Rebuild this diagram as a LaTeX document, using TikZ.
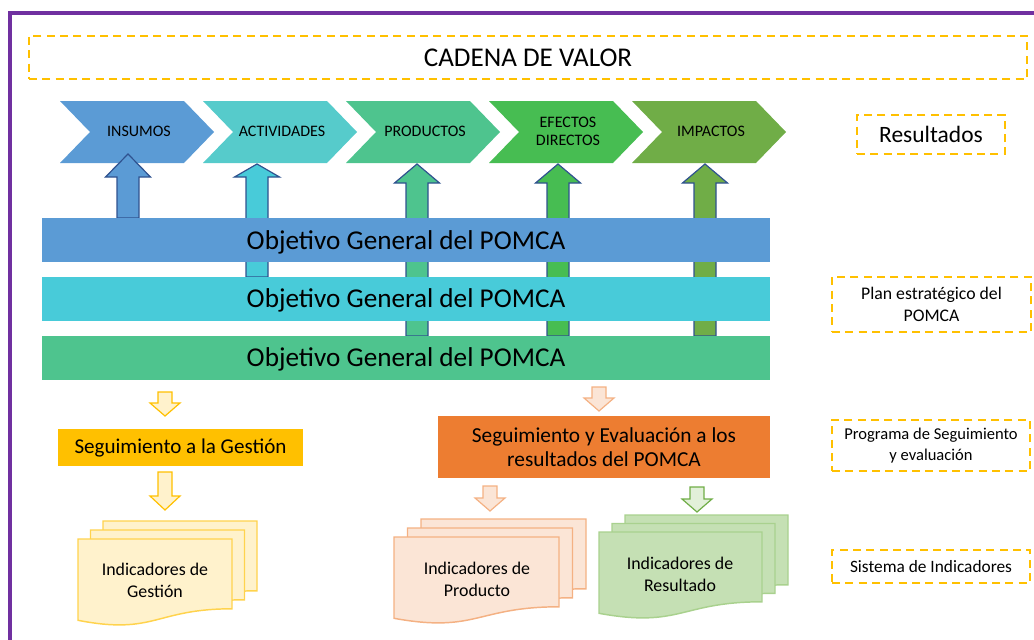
\documentclass[tikz,border=0pt]{standalone}
\usepackage{fontspec}
\setmainfont{Carlito}
\definecolor{frame}{HTML}{7030A0}
\definecolor{gold}{HTML}{FFC000}
\definecolor{goldlt}{HTML}{FFF2CC}
\definecolor{goldln}{HTML}{FFD34D}
\definecolor{cblue}{HTML}{5B9BD5}
\definecolor{cteal}{HTML}{56CBCB}
\definecolor{ccyan}{HTML}{48CBD9}
\definecolor{cgreen}{HTML}{4EC48E}
\definecolor{cleaf}{HTML}{47BD52}
\definecolor{colive}{HTML}{70AD47}
\definecolor{arrln}{HTML}{2F528F}
\definecolor{orng}{HTML}{ED7D31}
\definecolor{ornglt}{HTML}{FBE5D6}
\definecolor{orngln}{HTML}{F4B183}
\definecolor{grnlt}{HTML}{C5E0B4}
\definecolor{grnln}{HTML}{A9D18E}
\definecolor{grnar}{HTML}{E2F0D9}
\usetikzlibrary{positioning}
% block arrow up: centre x, tip y, head y, bottom y, fill
\newcommand{\uparr}[5]{%
  \filldraw[draw=arrln, line width=0.9pt, fill=#5] (#1,#2) -- ({#1+22.5},#3) -- ({#1+11},#3) -- ({#1+11},#4) -- ({#1-11},#4) -- ({#1-11},#3) -- ({#1-22.5},#3) -- cycle;}
% block arrow down: centre x, top y, head y, tip y, style
\newcommand{\dnarr}[5]{%
  \filldraw[#5] ({#1-7},#2) -- ({#1+7},#2) -- ({#1+7},#3) -- ({#1+15},#3) -- (#1,#4) -- ({#1-15},#3) -- ({#1-7},#3) -- cycle;}
% one sheet of a document stack: left x, top y, width, style
\newcommand{\docsheet}[4]{%
  \filldraw[#4] (#1,#2) -- ({#1+#3},#2) -- ({#1+#3},{#2+69.8}) .. controls +({-0.5*#3},0) and +({0.5*#3},15) .. (#1,{#2+81.3}) -- cycle;}
\begin{document}
\begin{tikzpicture}[x=0.75pt,y=-0.75pt,
  dashbox/.style={draw=gold, line width=1.5pt, dash pattern=on 6pt off 4pt, align=center, inner sep=0},
  chev/.style={align=center, inner sep=0, font=\fontsize{12}{13.5}\selectfont},
  bar/.style={minimum width=546pt, minimum height=33pt, inner sep=0, text depth=0pt, font=\fontsize{20.4}{24}\selectfont},
  doctext/.style={align=center, inner sep=0, font=\fontsize{13.4}{16.5}\selectfont},
  gdoc/.style={fill=goldlt, draw=goldln, line width=1.1pt},
  odoc/.style={fill=ornglt, draw=orngln, line width=1.1pt},
  rdoc/.style={fill=grnlt, draw=grnln, line width=1.1pt}]
\useasboundingbox (0,0) rectangle (1034,639);
\draw[frame, line width=2.5pt] (10,645) -- (10,13) -- (1040,13);
\node[dashbox, minimum width=748.5pt, minimum height=32.25pt, font=\fontsize{20.3}{24}\selectfont] (cadena) at (528,57.5) {CADENA DE VALOR};
% value chain
\fill[cblue] (60,101) -- (184,101) -- (214,132) -- (184,163) -- (60,163) -- (90,132) -- cycle;
\fill[cteal] (203,101) -- (327,101) -- (357,132) -- (327,163) -- (203,163) -- (233,132) -- cycle;
\fill[cgreen] (346,101) -- (470,101) -- (500,132) -- (470,163) -- (346,163) -- (376,132) -- cycle;
\fill[cleaf] (489,101) -- (613,101) -- (643,132) -- (613,163) -- (489,163) -- (519,132) -- cycle;
\fill[colive] (632,101) -- (756,101) -- (786,132) -- (756,163) -- (632,163) -- (662,132) -- cycle;
\node[chev] (insumos) at (139,131) {INSUMOS};
\node[chev] (actividades) at (282,131) {ACTIVIDADES};
\node[chev] (productos) at (425,131) {PRODUCTOS};
\node[chev] (efectos) at (568,131) {EFECTOS\\DIRECTOS};
\node[chev] (impactos) at (711,131) {IMPACTOS};
\uparr{128}{154}{177}{218}{cblue}
\uparr{257}{164}{177}{277}{ccyan}
\uparr{417}{164}{183}{336}{cgreen}
\uparr{558}{164}{183}{336}{cleaf}
\uparr{705}{164}{183}{336}{colive}
\node[bar, fill=cblue] (obj1) at (406,240) {Objetivo General del POMCA};
\node[bar, fill=ccyan] (obj2) at (406,298.5) {Objetivo General del POMCA};
\node[bar, fill=cgreen] (obj3) at (406,357.5) {Objetivo General del POMCA};
% follow-up
\dnarr{165}{392}{403}{416}{fill=goldlt, draw=gold, line width=0.9pt}
\node[fill=gold, minimum width=183.75pt, minimum height=27.75pt, inner sep=0, font=\fontsize{15.8}{18}\selectfont] (gestion) at (180.5,447.5) {Seguimiento a la Gestión};
\dnarr{165}{472}{496}{510}{fill=goldlt, draw=gold, line width=0.9pt}
\dnarr{599}{387}{398}{411}{fill=ornglt, draw=orngln, line width=0.9pt}
\node[fill=orng, minimum width=249pt, minimum height=46.5pt, inner sep=0, align=center, font=\fontsize{16}{18}\selectfont] (segeval) at (604,447) {Seguimiento y Evaluación a los\\resultados del POMCA};
\dnarr{490}{486}{498}{511}{fill=ornglt, draw=orngln, line width=0.9pt}
\dnarr{697}{487}{499}{512}{fill=grnar, draw=colive, line width=0.9pt}
% indicator stacks
\docsheet{103}{521}{154}{gdoc}
\docsheet{90.5}{530}{154}{gdoc}
\docsheet{78}{539}{154}{gdoc}
\node[doctext] (indgestion) at (155,580) {Indicadores de\\Gestión};
\docsheet{421}{519}{165}{odoc}
\docsheet{407.5}{528}{165}{odoc}
\docsheet{394}{537}{165}{odoc}
\node[doctext] (indproducto) at (477,579) {Indicadores de\\Producto};
\docsheet{625}{515}{163}{rdoc}
\docsheet{612}{523.5}{163}{rdoc}
\docsheet{599}{532}{163}{rdoc}
\node[doctext] (indresultado) at (680,574) {Indicadores de\\Resultado};
% levels
\node[dashbox, minimum width=111pt, minimum height=29.25pt, font=\fontsize{17.6}{20}\selectfont] (resultados) at (931,134.5) {Resultados};
\node[dashbox, minimum width=149.25pt, minimum height=41.25pt, font=\fontsize{13.3}{16.5}\selectfont] (plan) at (931.5,304.5) {Plan estratégico del\\POMCA};
\node[dashbox, minimum width=148.5pt, minimum height=38.25pt, font=\fontsize{12.4}{15.75}\selectfont] (programa) at (931,445.5) {Programa de Seguimiento\\y evaluación};
\node[dashbox, minimum width=148.5pt, minimum height=24.75pt, font=\fontsize{13}{15}\selectfont] (sistema) at (931,566.5) {Sistema de Indicadores};
\end{tikzpicture}
\end{document}
